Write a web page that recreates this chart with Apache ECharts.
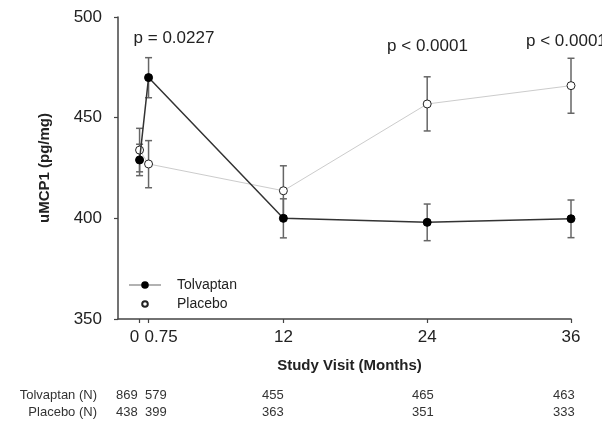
<!DOCTYPE html>
<html>
<head>
<meta charset="utf-8">
<script src="https://cdn.jsdelivr.net/npm/echarts@6/dist/echarts.min.js"></script>
<style>
html,body{margin:0;padding:0;background:#fff;}
#chart{width:602px;height:421px;}
</style>
</head>
<body>
<div id="chart"></div>
<script>
// Data
var months = [0, 0.75, 12, 24, 36];
var tolvaptanMean = [429.0, 469.9, 400.0, 398.0, 399.8];
var tolvaptanLow  = [421.2, 459.9, 390.3, 388.9, 390.4];
var tolvaptanHigh = [436.8, 479.8, 409.7, 407.1, 409.1];
var placeboMean = [433.9, 427.0, 413.7, 456.8, 465.9];
var placeboLow  = [423.1, 415.2, 401.3, 443.4, 452.2];
var placeboHigh = [444.7, 438.6, 426.1, 470.3, 479.5];
var tolvaptanN = [869, 579, 455, 465, 463];
var placeboN   = [438, 399, 363, 351, 333];
var yTicks = [350, 400, 450, 500];
var pValues = ['p = 0.0227', 'p < 0.0001', 'p < 0.0001'];

var FONT = 'Liberation Sans, Arial, sans-serif';
var chart = echarts.init(document.getElementById('chart'), null, {renderer: 'canvas'});

function pairs(xs, ys) { return xs.map(function (x, i) { return [x, ys[i]]; }); }
function errData(xs, lo, hi) { return xs.map(function (x, i) { return [x, lo[i], hi[i]]; }); }

function errRender(params, api) {
  var x = api.value(0);
  var p1 = api.coord([x, api.value(1)]);
  var p2 = api.coord([x, api.value(2)]);
  var hw = 3.5;
  var st = {stroke: '#666', lineWidth: 1.5};
  return {
    type: 'group',
    children: [
      {type: 'line', shape: {x1: p1[0], y1: p1[1], x2: p2[0], y2: p2[1]}, style: st},
      {type: 'line', shape: {x1: p1[0] - hw, y1: p1[1], x2: p1[0] + hw, y2: p1[1]}, style: st},
      {type: 'line', shape: {x1: p2[0] - hw, y1: p2[1], x2: p2[0] + hw, y2: p2[1]}, style: st}
    ]
  };
}

var labelRich = {
  z: {fontFamily: FONT, fontSize: 17, color: '#222', padding: [0, 10, 0, 0]},
  s: {fontFamily: FONT, fontSize: 17, color: '#222', padding: [0, 0, 0, 25]},
  n: {fontFamily: FONT, fontSize: 17, color: '#222'}
};

var tableText = [];
var nLeft = [116, 145, 262, 412, 553];
tableText.push({type: 'text', right: 602 - 97, top: 389, style: {text: 'Tolvaptan (N)', font: '13px ' + FONT, fill: '#333'}});
tableText.push({type: 'text', right: 602 - 97, top: 406, style: {text: 'Placebo (N)', font: '13px ' + FONT, fill: '#333'}});
for (var i = 0; i < months.length; i++) {
  tableText.push({type: 'text', left: nLeft[i], top: 389, style: {text: String(tolvaptanN[i]), font: '13px ' + FONT, fill: '#333'}});
  tableText.push({type: 'text', left: nLeft[i], top: 406, style: {text: String(placeboN[i]), font: '13px ' + FONT, fill: '#333'}});
}
var pPos = [[174, 38, 'center'], [427.5, 46.7, 'center'], [526, 41.7, 'left']];
for (var j = 0; j < pValues.length; j++) {
  tableText.push({type: 'text', x: pPos[j][0], y: pPos[j][1],
    style: {text: pValues[j], font: '17px ' + FONT, fill: '#222', textAlign: pPos[j][2], textVerticalAlign: 'middle'}});
}

var option = {
  backgroundColor: '#fff',
  animation: false,
  grid: {left: 118, right: 31, top: 17, bottom: 102, containLabel: false},
  legend: {
    orient: 'vertical', left: 123, top: 273,
    itemWidth: 32, itemHeight: 7, itemGap: 5,
    textStyle: {fontFamily: FONT, fontSize: 14, color: '#222', padding: [0, 0, 0, 11]},
    data: [
      {name: 'Tolvaptan', lineStyle: {color: '#999', width: 1.5}},
      {name: 'Placebo', lineStyle: {opacity: 0}}
    ]
  },
  xAxis: {
    type: 'value', min: -1.8, max: 36,
    name: 'Study Visit (Months)', nameLocation: 'middle', nameGap: 39,
    nameTextStyle: {fontFamily: FONT, fontSize: 15, fontWeight: 'bold', color: '#222', padding: [0, 0, 0, 10]},
    axisLine: {show: true, onZero: false, lineStyle: {color: '#444', width: 1.5}},
    axisTick: {show: true, length: 4, customValues: months, lineStyle: {color: '#444', width: 1.2}},
    axisLabel: {
      margin: 10, customValues: [0, 0.75, 12, 24, 36],
      formatter: function (v) {
        if (v === 0) return '{z|0}';
        if (v === 0.75) return '{s|0.75}';
        return '{n|' + v + '}';
      },
      rich: labelRich
    },
    splitLine: {show: false}
  },
  yAxis: {
    type: 'value', min: 350, max: 500, interval: 50,
    name: 'uMCP1 (pg/mg)', nameLocation: 'middle', nameGap: 66,
    nameTextStyle: {fontFamily: FONT, fontSize: 15, fontWeight: 'bold', color: '#222'},
    axisLine: {show: true, onZero: false, lineStyle: {color: '#444', width: 1.5}},
    axisTick: {show: true, length: 4, lineStyle: {color: '#444', width: 1.2}},
    axisLabel: {margin: 16, fontFamily: FONT, fontSize: 17, color: '#222',
      customValues: yTicks},
    splitLine: {show: false}
  },
  series: [
    {name: 'PlaceboErr', type: 'custom', renderItem: errRender, data: errData(months, placeboLow, placeboHigh), z: 1, silent: true},
    {name: 'TolvaptanErr', type: 'custom', renderItem: errRender, data: errData(months, tolvaptanLow, tolvaptanHigh), z: 1, silent: true},
    {
      name: 'Placebo', type: 'line', data: pairs(months, placeboMean), z: 3,
      symbol: 'circle', symbolSize: 8,
      lineStyle: {color: '#cccccc', width: 1},
      itemStyle: {color: '#fff', borderColor: '#222', borderWidth: 1}
    },
    {
      name: 'Tolvaptan', type: 'line', data: pairs(months, tolvaptanMean), z: 4,
      symbol: 'circle', symbolSize: 8,
      lineStyle: {color: '#333', width: 1.5},
      itemStyle: {color: '#000', borderColor: '#000', borderWidth: 1}
    }
  ],
  graphic: tableText
};
chart.setOption(option);
</script>
</body>
</html>
